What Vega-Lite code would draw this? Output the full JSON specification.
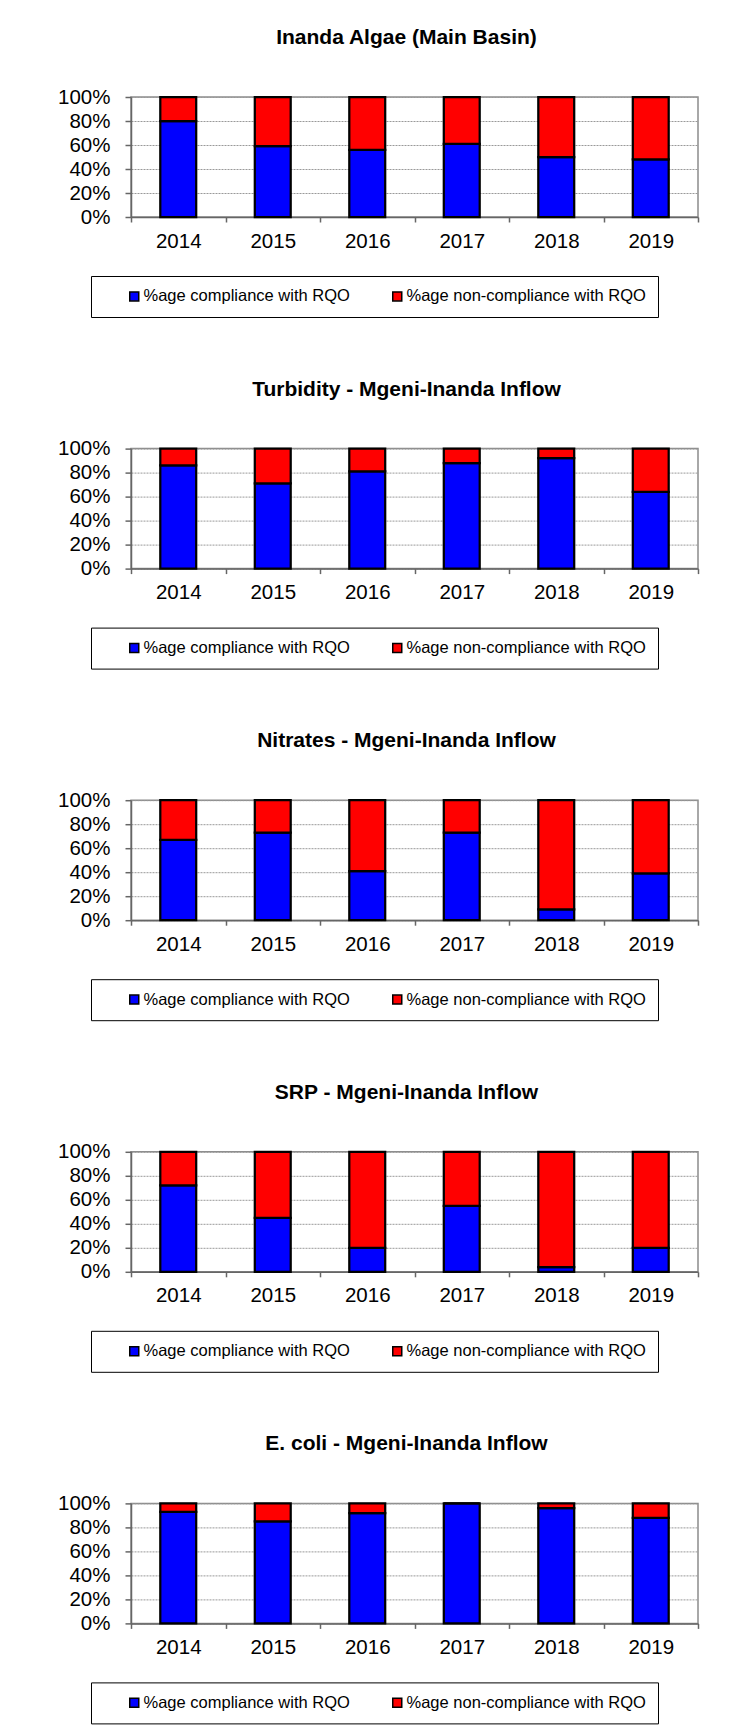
{
  "$schema": "https://vega.github.io/schema/vega-lite/v6.json",
  "background": "white",
  "padding": {"left": 56, "top": 26, "right": 4, "bottom": 4},
  "spacing": 58.6,
  "datasets": {
    "algae": [
      {"year": "2014", "series": "%age compliance with RQO", "pct": 0.80},
      {"year": "2014", "series": "%age non-compliance with RQO", "pct": 0.20},
      {"year": "2015", "series": "%age compliance with RQO", "pct": 0.59},
      {"year": "2015", "series": "%age non-compliance with RQO", "pct": 0.41},
      {"year": "2016", "series": "%age compliance with RQO", "pct": 0.56},
      {"year": "2016", "series": "%age non-compliance with RQO", "pct": 0.44},
      {"year": "2017", "series": "%age compliance with RQO", "pct": 0.61},
      {"year": "2017", "series": "%age non-compliance with RQO", "pct": 0.39},
      {"year": "2018", "series": "%age compliance with RQO", "pct": 0.50},
      {"year": "2018", "series": "%age non-compliance with RQO", "pct": 0.50},
      {"year": "2019", "series": "%age compliance with RQO", "pct": 0.48},
      {"year": "2019", "series": "%age non-compliance with RQO", "pct": 0.52}
    ],
    "turbidity": [
      {"year": "2014", "series": "%age compliance with RQO", "pct": 0.86},
      {"year": "2014", "series": "%age non-compliance with RQO", "pct": 0.14},
      {"year": "2015", "series": "%age compliance with RQO", "pct": 0.71},
      {"year": "2015", "series": "%age non-compliance with RQO", "pct": 0.29},
      {"year": "2016", "series": "%age compliance with RQO", "pct": 0.81},
      {"year": "2016", "series": "%age non-compliance with RQO", "pct": 0.19},
      {"year": "2017", "series": "%age compliance with RQO", "pct": 0.88},
      {"year": "2017", "series": "%age non-compliance with RQO", "pct": 0.12},
      {"year": "2018", "series": "%age compliance with RQO", "pct": 0.92},
      {"year": "2018", "series": "%age non-compliance with RQO", "pct": 0.08},
      {"year": "2019", "series": "%age compliance with RQO", "pct": 0.64},
      {"year": "2019", "series": "%age non-compliance with RQO", "pct": 0.36}
    ],
    "nitrates": [
      {"year": "2014", "series": "%age compliance with RQO", "pct": 0.67},
      {"year": "2014", "series": "%age non-compliance with RQO", "pct": 0.33},
      {"year": "2015", "series": "%age compliance with RQO", "pct": 0.73},
      {"year": "2015", "series": "%age non-compliance with RQO", "pct": 0.27},
      {"year": "2016", "series": "%age compliance with RQO", "pct": 0.41},
      {"year": "2016", "series": "%age non-compliance with RQO", "pct": 0.59},
      {"year": "2017", "series": "%age compliance with RQO", "pct": 0.73},
      {"year": "2017", "series": "%age non-compliance with RQO", "pct": 0.27},
      {"year": "2018", "series": "%age compliance with RQO", "pct": 0.09},
      {"year": "2018", "series": "%age non-compliance with RQO", "pct": 0.91},
      {"year": "2019", "series": "%age compliance with RQO", "pct": 0.39},
      {"year": "2019", "series": "%age non-compliance with RQO", "pct": 0.61}
    ],
    "srp": [
      {"year": "2014", "series": "%age compliance with RQO", "pct": 0.72},
      {"year": "2014", "series": "%age non-compliance with RQO", "pct": 0.28},
      {"year": "2015", "series": "%age compliance with RQO", "pct": 0.45},
      {"year": "2015", "series": "%age non-compliance with RQO", "pct": 0.55},
      {"year": "2016", "series": "%age compliance with RQO", "pct": 0.20},
      {"year": "2016", "series": "%age non-compliance with RQO", "pct": 0.80},
      {"year": "2017", "series": "%age compliance with RQO", "pct": 0.55},
      {"year": "2017", "series": "%age non-compliance with RQO", "pct": 0.45},
      {"year": "2018", "series": "%age compliance with RQO", "pct": 0.04},
      {"year": "2018", "series": "%age non-compliance with RQO", "pct": 0.96},
      {"year": "2019", "series": "%age compliance with RQO", "pct": 0.20},
      {"year": "2019", "series": "%age non-compliance with RQO", "pct": 0.80}
    ],
    "ecoli": [
      {"year": "2014", "series": "%age compliance with RQO", "pct": 0.93},
      {"year": "2014", "series": "%age non-compliance with RQO", "pct": 0.07},
      {"year": "2015", "series": "%age compliance with RQO", "pct": 0.85},
      {"year": "2015", "series": "%age non-compliance with RQO", "pct": 0.15},
      {"year": "2016", "series": "%age compliance with RQO", "pct": 0.92},
      {"year": "2016", "series": "%age non-compliance with RQO", "pct": 0.08},
      {"year": "2017", "series": "%age compliance with RQO", "pct": 1.00},
      {"year": "2017", "series": "%age non-compliance with RQO", "pct": 0.00},
      {"year": "2018", "series": "%age compliance with RQO", "pct": 0.96},
      {"year": "2018", "series": "%age non-compliance with RQO", "pct": 0.04},
      {"year": "2019", "series": "%age compliance with RQO", "pct": 0.88},
      {"year": "2019", "series": "%age non-compliance with RQO", "pct": 0.12}
    ]
  },
  "vconcat": [
    {
      "title": "Inanda Algae (Main Basin)",
      "width": 567, "height": 120,
      "data": {"name": "algae"},
      "mark": {"type": "bar", "stroke": "black", "strokeWidth": 2.25, "width": {"band": 0.38}},
      "encoding": {
        "x": {"field": "year", "type": "ordinal", "scale": {"paddingInner": 0, "paddingOuter": 0}, "axis": {"title": null}},
        "y": {"field": "pct", "type": "quantitative", "stack": "zero", "scale": {"domain": [0, 1], "nice": false}, "axis": {"title": null, "format": ".0%", "values": [0, 0.2, 0.4, 0.6, 0.8, 1]}},
        "color": {"field": "series", "type": "nominal", "scale": {"domain": ["%age compliance with RQO", "%age non-compliance with RQO"], "range": ["#0000FF", "#FF0000"]}, "legend": {"title": null, "orient": "none", "direction": "horizontal", "legendX": -40, "legendY": 179}},
        "order": {"field": "series", "type": "nominal", "sort": "ascending"}
      }
    },
    {
      "title": "Turbidity - Mgeni-Inanda Inflow",
      "width": 567, "height": 120,
      "data": {"name": "turbidity"},
      "mark": {"type": "bar", "stroke": "black", "strokeWidth": 2.25, "width": {"band": 0.38}},
      "encoding": {
        "x": {"field": "year", "type": "ordinal", "scale": {"paddingInner": 0, "paddingOuter": 0}, "axis": {"title": null}},
        "y": {"field": "pct", "type": "quantitative", "stack": "zero", "scale": {"domain": [0, 1], "nice": false}, "axis": {"title": null, "format": ".0%", "values": [0, 0.2, 0.4, 0.6, 0.8, 1]}},
        "color": {"field": "series", "type": "nominal", "scale": {"domain": ["%age compliance with RQO", "%age non-compliance with RQO"], "range": ["#0000FF", "#FF0000"]}, "legend": {"title": null, "orient": "none", "direction": "horizontal", "legendX": -40, "legendY": 179}},
        "order": {"field": "series", "type": "nominal", "sort": "ascending"}
      }
    },
    {
      "title": "Nitrates - Mgeni-Inanda Inflow",
      "width": 567, "height": 120,
      "data": {"name": "nitrates"},
      "mark": {"type": "bar", "stroke": "black", "strokeWidth": 2.25, "width": {"band": 0.38}},
      "encoding": {
        "x": {"field": "year", "type": "ordinal", "scale": {"paddingInner": 0, "paddingOuter": 0}, "axis": {"title": null}},
        "y": {"field": "pct", "type": "quantitative", "stack": "zero", "scale": {"domain": [0, 1], "nice": false}, "axis": {"title": null, "format": ".0%", "values": [0, 0.2, 0.4, 0.6, 0.8, 1]}},
        "color": {"field": "series", "type": "nominal", "scale": {"domain": ["%age compliance with RQO", "%age non-compliance with RQO"], "range": ["#0000FF", "#FF0000"]}, "legend": {"title": null, "orient": "none", "direction": "horizontal", "legendX": -40, "legendY": 179}},
        "order": {"field": "series", "type": "nominal", "sort": "ascending"}
      }
    },
    {
      "title": "SRP - Mgeni-Inanda Inflow",
      "width": 567, "height": 120,
      "data": {"name": "srp"},
      "mark": {"type": "bar", "stroke": "black", "strokeWidth": 2.25, "width": {"band": 0.38}},
      "encoding": {
        "x": {"field": "year", "type": "ordinal", "scale": {"paddingInner": 0, "paddingOuter": 0}, "axis": {"title": null}},
        "y": {"field": "pct", "type": "quantitative", "stack": "zero", "scale": {"domain": [0, 1], "nice": false}, "axis": {"title": null, "format": ".0%", "values": [0, 0.2, 0.4, 0.6, 0.8, 1]}},
        "color": {"field": "series", "type": "nominal", "scale": {"domain": ["%age compliance with RQO", "%age non-compliance with RQO"], "range": ["#0000FF", "#FF0000"]}, "legend": {"title": null, "orient": "none", "direction": "horizontal", "legendX": -40, "legendY": 179}},
        "order": {"field": "series", "type": "nominal", "sort": "ascending"}
      }
    },
    {
      "title": "E. coli - Mgeni-Inanda Inflow",
      "width": 567, "height": 120,
      "data": {"name": "ecoli"},
      "mark": {"type": "bar", "stroke": "black", "strokeWidth": 2.25, "width": {"band": 0.38}},
      "encoding": {
        "x": {"field": "year", "type": "ordinal", "scale": {"paddingInner": 0, "paddingOuter": 0}, "axis": {"title": null}},
        "y": {"field": "pct", "type": "quantitative", "stack": "zero", "scale": {"domain": [0, 1], "nice": false}, "axis": {"title": null, "format": ".0%", "values": [0, 0.2, 0.4, 0.6, 0.8, 1]}},
        "color": {"field": "series", "type": "nominal", "scale": {"domain": ["%age compliance with RQO", "%age non-compliance with RQO"], "range": ["#0000FF", "#FF0000"]}, "legend": {"title": null, "orient": "none", "direction": "horizontal", "legendX": -40, "legendY": 179}},
        "order": {"field": "series", "type": "nominal", "sort": "ascending"}
      }
    }
  ],
  "resolve": {"scale": {"color": "independent", "x": "independent", "y": "independent"}, "legend": {"color": "independent"}},
  "config": {
    "font": "Liberation Sans",
    "view": {"stroke": "#8c8c8c", "strokeWidth": 1.5},
    "title": {"font": "Liberation Sans", "fontSize": 21, "fontWeight": "bold", "color": "black", "anchor": "middle", "frame": "group", "baseline": "alphabetic", "offset": 39, "dx": -8},
    "axis": {"labelFont": "Liberation Sans", "labelFontSize": 20.5, "labelColor": "black", "domainColor": "#666666", "domainWidth": 1.5, "tickColor": "#666666", "tickWidth": 1.5},
    "axisY": {"tickSize": 6, "labelPadding": 15, "grid": true, "gridColor": "#999999", "gridDash": [2, 1], "gridWidth": 1},
    "axisX": {"labelAngle": 0, "tickBand": "extent", "tickSize": 5, "labelPadding": 9, "grid": false},
    "legend": {"labelFont": "Liberation Sans", "labelFontSize": 16.5, "labelColor": "black", "labelLimit": 400, "symbolType": "square", "symbolSize": 81, "symbolStrokeColor": "black", "symbolStrokeWidth": 1.5, "symbolOffset": 23, "labelOffset": 1, "columnPadding": 16, "padding": 12, "strokeColor": "black", "fillColor": "white"}
  }
}
